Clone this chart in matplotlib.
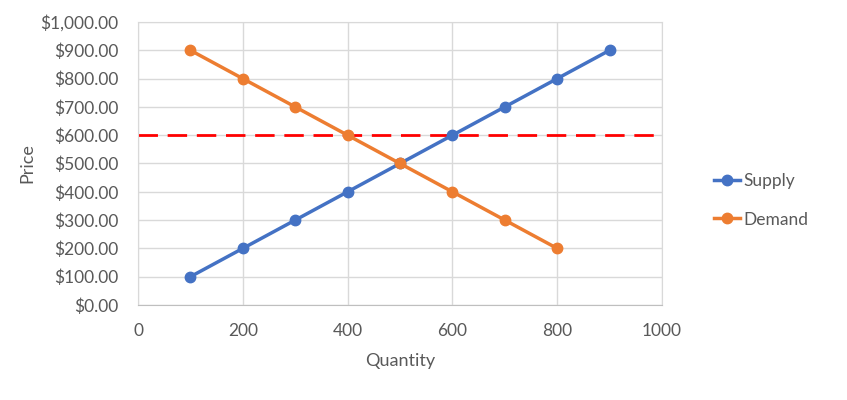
import matplotlib.pyplot as plt
from matplotlib.ticker import FuncFormatter, MultipleLocator

# data
quantity = [100, 200, 300, 400, 500, 600, 700, 800, 900]
supply = [100, 200, 300, 400, 500, 600, 700, 800, 900]
demand_qty = [100, 200, 300, 400, 500, 600, 700, 800]
demand = [900, 800, 700, 600, 500, 400, 300, 200]
ref_qty = [0, 1000]
ref_price = [600, 600]

plt.rcParams['font.family'] = ['Lato', 'DejaVu Sans']
text_color = "#595959"

fig = plt.figure(figsize=(8.47, 4.0), dpi=100)
ax = fig.add_axes([138 / 847, 95 / 400, 524 / 847, 283 / 400])

ax.plot(ref_qty, ref_price, color="#FF0000", lw=2, dashes=(7, 3.5), zorder=2)
ax.plot(quantity, supply, color="#4472C4", lw=2.5, marker="o", ms=7.5, label="Supply", zorder=3)
ax.plot(demand_qty, demand, color="#ED7D31", lw=2.5, marker="o", ms=7.5, label="Demand", zorder=3)

ax.set_xlim(0, 1000)
ax.set_ylim(0, 1000)
ax.xaxis.set_major_locator(MultipleLocator(200))
ax.yaxis.set_major_locator(MultipleLocator(100))
ax.yaxis.set_major_formatter(FuncFormatter(lambda v, p: f"${v:,.2f}"))
ax.grid(True, color="#D9D9D9", lw=1)
ax.set_axisbelow(True)

for side in ["top", "left", "right"]:
    ax.spines[side].set_color("#D9D9D9")
ax.spines["bottom"].set_color("#BFBFBF")
ax.tick_params(length=0, labelsize=12.5, colors=text_color)
ax.tick_params(axis="y", pad=14)
ax.tick_params(axis="x", pad=13)

ax.set_xlabel("Quantity", fontsize=13, color=text_color, labelpad=10)
ax.set_ylabel("Price", fontsize=13, color=text_color, labelpad=4)

ax.legend(loc="center left", bbox_to_anchor=(1.07, 0.37), frameon=False,
          fontsize=12.5, labelcolor=text_color, handlelength=1.5, handletextpad=0.2,
          labelspacing=1.3)

fig.savefig("out.png", dpi=100)
